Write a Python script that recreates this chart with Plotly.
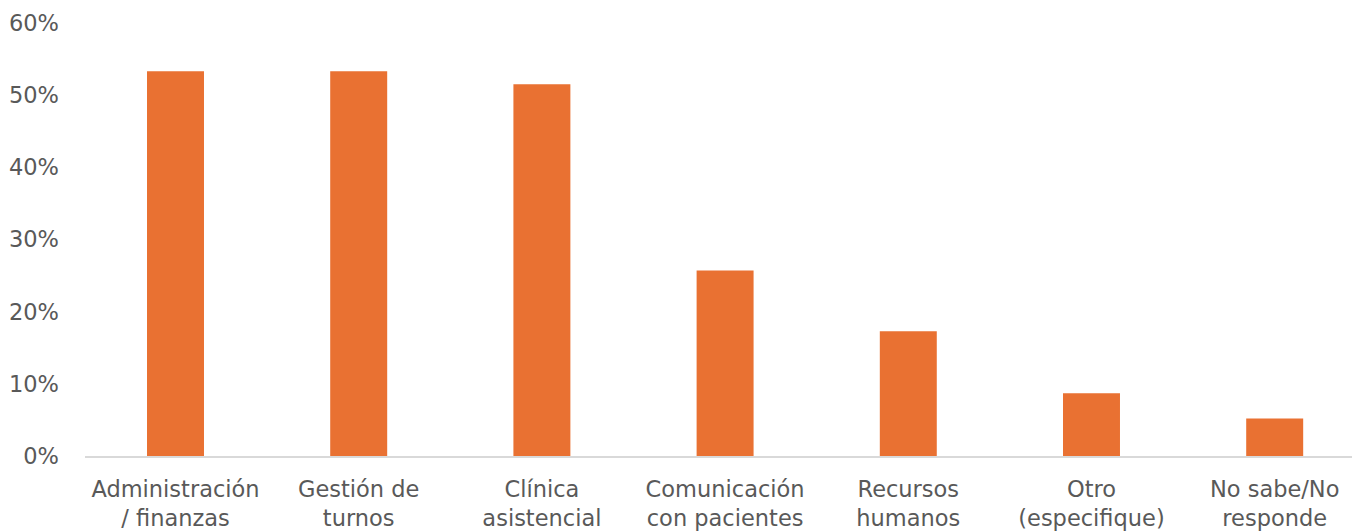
import plotly.graph_objects as go

# Survey areas and share of respondents
categories = [
    "Administración<br>/ finanzas",
    "Gestión de<br>turnos",
    "Clínica<br>asistencial",
    "Comunicación<br>con pacientes",
    "Recursos<br>humanos",
    "Otro<br>(especifique)",
    "No sabe/No<br>responde",
]
shares = [0.533, 0.533, 0.515, 0.257, 0.173, 0.087, 0.052]
y_ticks = [0, 0.1, 0.2, 0.3, 0.4, 0.5, 0.6]
y_tick_labels = ["0%", "10%", "20%", "30%", "40%", "50%", "60%"]

BAR_COLOR = "#E97132"
TEXT_COLOR = "#595959"
FONT = "DejaVu Sans"

x_pos = list(range(len(categories)))

fig = go.Figure(
    go.Bar(
        x=x_pos,
        y=shares,
        width=0.311,
        marker=dict(color=BAR_COLOR, line=dict(width=0)),
        hoverinfo="skip",
    )
)

fig.update_layout(
    width=1352,
    height=531,
    margin=dict(l=85, r=0, t=23, b=75),
    paper_bgcolor="white",
    plot_bgcolor="white",
    showlegend=False,
    font=dict(family=FONT, size=22.5, color=TEXT_COLOR),
)

fig.update_xaxes(
    tickmode="array",
    tickvals=x_pos,
    ticktext=categories,
    range=[-0.494, 6.422],
    showgrid=False,
    zeroline=False,
    showline=True,
    linecolor="#d9d9d9",
    linewidth=2,
    ticks="",
    automargin=False,
    ticklabelstandoff=12,
)

fig.update_yaxes(
    range=[0, 0.6],
    tickmode="array",
    tickvals=y_ticks,
    ticktext=y_tick_labels,
    showgrid=False,
    zeroline=False,
    showline=False,
    ticks="",
    automargin=False,
    ticklabelstandoff=25,
)

fig.write_html("out.html")
